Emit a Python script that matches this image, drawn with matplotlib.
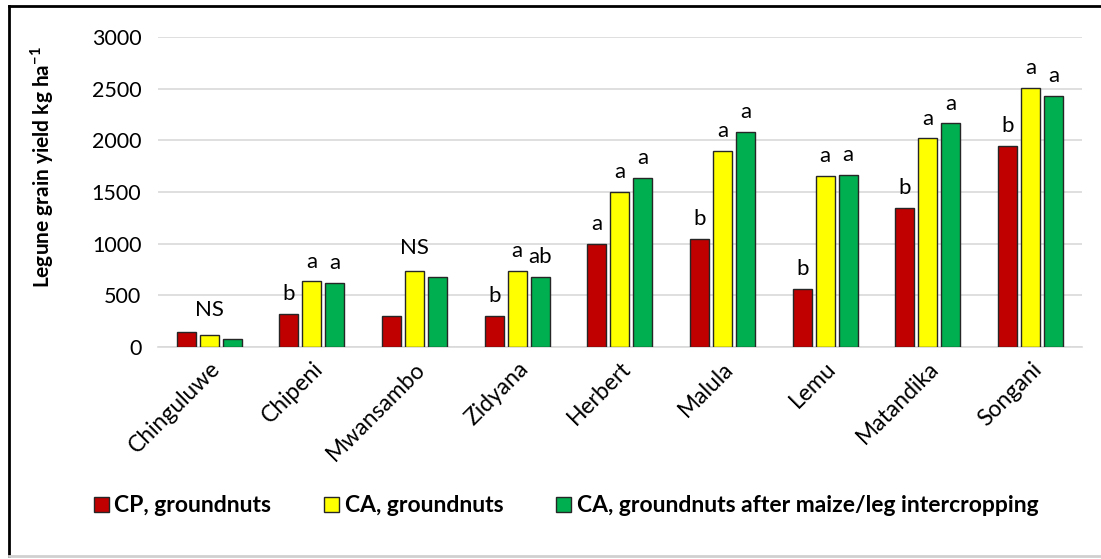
import numpy as np
import matplotlib
matplotlib.use("Agg")
from matplotlib import pyplot as plt
from matplotlib.lines import Line2D

plt.rcParams['font.family'] = ['Lato', 'DejaVu Sans']
plt.rcParams['mathtext.fontset'] = 'custom'
plt.rcParams['mathtext.rm'] = 'Lato'
plt.rcParams['mathtext.bf'] = 'Lato:bold'

SITES = ['Chinguluwe', 'Chipeni', 'Mwansambo', 'Zidyana', 'Herbert',
         'Malula', 'Lemu', 'Matandika', 'Songani']
SERIES = ['CP, groundnuts', 'CA, groundnuts',
          'CA, groundnuts after maize/leg intercropping']
CP_GN = [145, 320, 305, 305, 1000, 1045, 565, 1345, 1950]
CA_GN = [115, 635, 740, 740, 1500, 1900, 1655, 2020, 2510]
CA_INT = [80, 620, 680, 680, 1640, 2085, 1665, 2165, 2430]

# significance letters per bar ('' where a group label is used instead)
LETTERS_CP = ['', 'b', '', 'b', 'a', 'b', 'b', 'b', 'b']
LETTERS_CA = ['', 'a', '', 'a', 'a', 'a', 'a', 'a', 'a']
LETTERS_INT = ['', 'a', '', 'ab', 'a', 'a', 'a', 'a', 'a']
GROUP_LABELS = ['NS', '', 'NS', '', '', '', '', '', '']

COLORS = ['#C00000', '#FFFF00', '#00B050']

fig = plt.figure(figsize=(11.01, 5.59), dpi=100)
ax = fig.add_axes([0.1435, 0.3792, 0.8392, 0.5546])

x = np.arange(len(SITES))
width = 0.185
offsets = [-0.224, 0.0, 0.224]
values = [CP_GN, CA_GN, CA_INT]
letters = [LETTERS_CP, LETTERS_CA, LETTERS_INT]

for i in range(3):
    bars = ax.bar(x + offsets[i], values[i], width, color=COLORS[i],
                  edgecolor='#262626', linewidth=1.0, label=SERIES[i],
                  zorder=3)
    for b, lab in zip(bars, letters[i]):
        if lab:
            ax.annotate(lab, (b.get_x() + b.get_width() / 2, b.get_height()),
                        xytext=(0, 7), textcoords='offset points',
                        ha='center', va='bottom', fontsize=16)

for xi, lab in zip(x, GROUP_LABELS):
    if lab:
        top = max(CP_GN[xi], CA_GN[xi], CA_INT[xi])
        ax.annotate(lab, (xi, top), xytext=(0, 9), textcoords='offset points',
                    ha='center', va='bottom', fontsize=16)

ax.set_xlim(-0.5, len(SITES) - 0.5)
ax.set_ylim(0, 3000)
ax.set_yticks(np.arange(0, 3001, 500))
ax.yaxis.grid(True, color='#D9D9D9', linewidth=1.2, zorder=0)
ax.set_axisbelow(True)
for s in ['left', 'right', 'top']:
    ax.spines[s].set_visible(False)
ax.spines['bottom'].set_color('#D9D9D9')
ax.spines['bottom'].set_linewidth(1.2)
ax.tick_params(axis='both', length=0, colors='black')
ax.tick_params(axis='y', pad=12, labelsize=15.5)
ax.set_xticks(x)
ax.set_xticklabels(SITES, rotation=45, ha='right', va='top',
                   rotation_mode='anchor', fontsize=16.5)
ax.tick_params(axis='x', pad=8)

fig.text(0.038, 1 - 167 / 559, r'Legune grain yield kg ha$^{\mathbf{-1}}$',
         rotation=90, ha='center', va='center', fontsize=15,
         fontweight='bold')

leg = fig.legend(loc='center', bbox_to_anchor=(0.514, 1 - 506 / 559),
                 ncol=3, frameon=False, handlelength=0.65, handleheight=0.65,
                 handletextpad=0.25, columnspacing=2.3,
                 prop={'size': 16.5, 'weight': 'bold'})

# outer frame like the pasted screenshot
fig.add_artist(Line2D([9 / 1101, 9 / 1101], [1 - 6 / 559, 1 - 556 / 559],
                      transform=fig.transFigure, color='black', linewidth=2))
fig.add_artist(Line2D([9 / 1101, 1.0], [1 - 6 / 559, 1 - 6 / 559],
                      transform=fig.transFigure, color='black', linewidth=2))
fig.add_artist(Line2D([9 / 1101, 1.0], [1 - 556 / 559, 1 - 556 / 559],
                      transform=fig.transFigure, color='#D0D0D0', linewidth=2))

fig.savefig('out.png', dpi=100)
plt.close(fig)
